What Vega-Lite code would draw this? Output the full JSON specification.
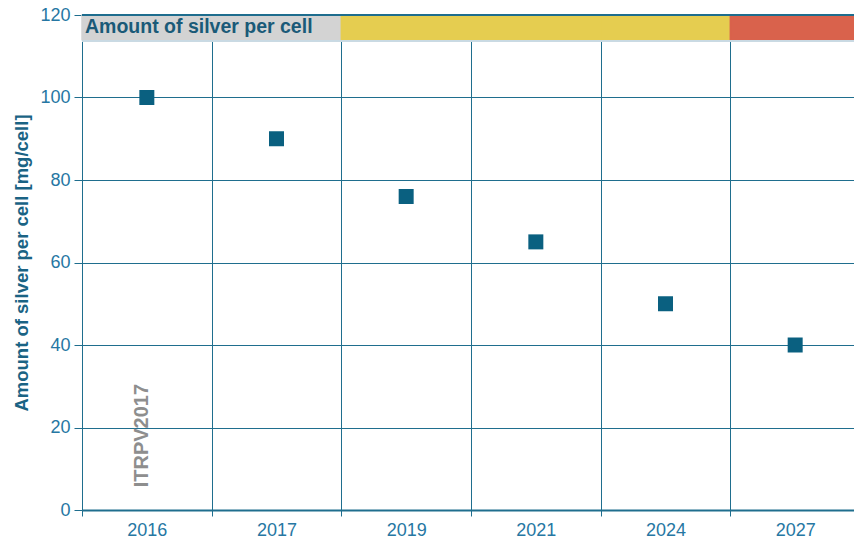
{
  "$schema": "https://vega.github.io/schema/vega-lite/v6.json",
  "width": 778,
  "height": 495,
  "autosize": {"type": "none"},
  "padding": {"left": 82, "top": 15, "right": 0, "bottom": 31},
  "background": "white",
  "config": {"view": {"stroke": null}, "font": "Liberation Sans"},
  "datasets": {
    "points": [
      {"year": "2016", "silver": 100},
      {"year": "2017", "silver": 90},
      {"year": "2019", "silver": 76},
      {"year": "2021", "silver": 65},
      {"year": "2024", "silver": 50},
      {"year": "2027", "silver": 40}
    ],
    "header": [
      {"year": "2016", "phase": "grey"},
      {"year": "2017", "phase": "grey"},
      {"year": "2019", "phase": "yellow"},
      {"year": "2021", "phase": "yellow"},
      {"year": "2024", "phase": "yellow"},
      {"year": "2027", "phase": "red"}
    ],
    "labels": [
      {"year": "2016", "text": "Amount of silver per cell", "kind": "header", "pos": 117},
      {"year": "2016", "text": "ITRPV2017", "kind": "source", "pos": 5.5}
    ]
  },
  "layer": [
    {
      "data": {"name": "header"},
      "mark": {"type": "rect", "strokeWidth": 1.5},
      "encoding": {
        "x": {
          "field": "year",
          "type": "ordinal",
          "sort": null,
          "scale": {"type": "band", "domain": ["2016", "2017", "2019", "2021", "2024", "2027"], "paddingInner": 0, "paddingOuter": 0},
          "axis": {
            "title": null,
            "zindex": 0,
            "tickBand": "extent",
            "labelAngle": 0,
            "labelFontSize": 18,
            "labelColor": "#2677a3",
            "labelPadding": 5,
            "domainColor": "#1f6e8e",
            "domainWidth": 2,
            "tickColor": "#1f6e8e",
            "tickSize": 6,
            "grid": true,
            "gridColor": "#1f6e8e",
            "gridWidth": 1,
            "gridOpacity": 1
          }
        },
        "y": {"datum": 114, "type": "quantitative"},
        "y2": {"datum": 120},
        "color": {
          "field": "phase",
          "type": "nominal",
          "scale": {"domain": ["grey", "yellow", "red"], "range": ["#d3d3d3", "#e5cd50", "#d9624c"]},
          "legend": null
        },
        "stroke": {
          "field": "phase",
          "type": "nominal",
          "scale": {"domain": ["grey", "yellow", "red"], "range": ["#d3d3d3", "#e5cd50", "#d9624c"]},
          "legend": null
        }
      }
    },
    {
      "data": {"name": "header"},
      "mark": {"type": "rule", "color": "#c9dbe3", "strokeWidth": 1},
      "encoding": {"y": {"datum": 113.7}}
    },
    {
      "data": {"name": "points"},
      "mark": {"type": "square", "size": 225, "opacity": 1, "color": "#0a6080"},
      "encoding": {
        "x": {"field": "year", "type": "ordinal", "sort": null},
        "y": {
          "field": "silver",
          "type": "quantitative",
          "scale": {"domain": [0, 120], "nice": false},
          "axis": {
            "values": [0, 20, 40, 60, 80, 100, 120],
            "zindex": 0,
            "title": "Amount of silver per cell [mg/cell]",
            "titleFontSize": 18.5,
            "titleFontWeight": "bold",
            "titleColor": "#1a6384",
            "titlePadding": 8,
            "labelFontSize": 18,
            "labelColor": "#2677a3",
            "labelPadding": 4,
            "tickSize": 8,
            "tickColor": "#1f6e8e",
            "domain": false,
            "grid": true,
            "gridColor": "#1f6e8e",
            "gridWidth": 1,
            "gridOpacity": 1
          }
        }
      }
    },
    {
      "data": {"name": "header"},
      "mark": {"type": "rule", "color": "#1f6e8e", "strokeWidth": 1.5},
      "encoding": {"y": {"datum": 120}}
    },
    {
      "data": {"name": "labels"},
      "transform": [{"filter": "datum.kind === 'header'"}],
      "mark": {"type": "text", "align": "left", "baseline": "middle", "dx": 3, "fontSize": 19.5, "fontWeight": "bold", "color": "#1a5a78"},
      "encoding": {
        "x": {"field": "year", "type": "ordinal", "bandPosition": 0},
        "y": {"field": "pos", "type": "quantitative"},
        "text": {"field": "text"}
      }
    },
    {
      "data": {"name": "labels"},
      "transform": [{"filter": "datum.kind === 'source'"}],
      "mark": {"type": "text", "align": "left", "baseline": "middle", "angle": 270, "dy": -5, "fontSize": 20, "fontWeight": "bold", "color": "#8e8e8e"},
      "encoding": {
        "x": {"field": "year", "type": "ordinal"},
        "y": {"field": "pos", "type": "quantitative"},
        "text": {"field": "text"}
      }
    }
  ]
}
